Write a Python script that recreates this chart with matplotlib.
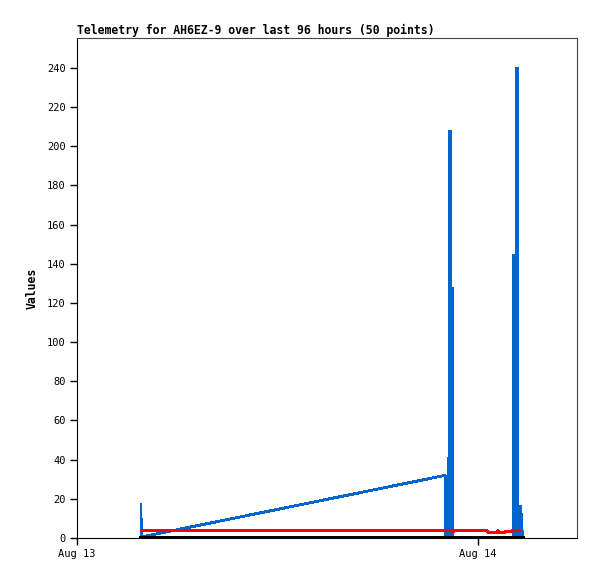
"""Telemetry chart for AH6EZ-9: three series over the last 96 hours."""

import matplotlib
matplotlib.use("Agg")
import matplotlib.pyplot as plt
import matplotlib.dates as mdates
import pandas as pd

BASE = pd.Timestamp("2024-08-13 00:00")

# hours after Aug 13 00:00
blue_hours = [3.83, 3.84, 22.05, 22.08, 22.11, 22.14, 22.17, 22.20, 22.23,
              22.26, 22.28, 22.31, 22.34, 22.37, 22.41, 22.44, 22.47, 22.50,
              26.10, 26.12, 26.15, 26.18, 26.21, 26.24, 26.27, 26.30, 26.33,
              26.36, 26.39, 26.54, 26.57, 26.60, 26.63, 26.66, 26.69]
blue_vals = [17, 0.5, 32, 0, 32, 0, 32, 0, 32,
             0, 208, 0, 208, 0, 128, 0, 128, 0,
             0, 145, 0, 145, 0, 121, 0, 240, 0,
             240, 0, 16.5, 0, 12.3, 0, 4, 0]

red_hours = [3.85, 22.45, 22.52, 22.60, 23.20, 23.25, 24.55, 24.60, 25.12,
             25.20, 25.28, 25.62, 25.68, 26.03, 26.08, 26.55]
red_vals = [3.75, 3.75, 3.0, 3.9, 3.9, 3.6, 3.6, 2.8, 2.8,
            3.9, 2.8, 2.8, 3.5, 3.5, 3.9, 3.9]

black_hours = [3.83, 26.72]
black_vals = [0, 0]

X_START_H, X_END_H = 0, 29.93


def to_time(hours):
    return [BASE + pd.Timedelta(hours=h) for h in hours]


plt.rcParams["font.family"] = "DejaVu Sans Mono"

fig = plt.figure(figsize=(5.97, 5.79), dpi=100)
ax = fig.add_axes([0.129, 0.0708, 0.8375, 0.8636])

ax.plot(to_time(blue_hours), blue_vals, color="#0066cc", lw=1.35,
        solid_joinstyle="bevel", antialiased=False, zorder=2)
ax.plot(to_time(red_hours), red_vals, color="#ff0000", lw=1.45,
        antialiased=False, zorder=3)
ax.plot(to_time(black_hours), black_vals, color="black", lw=1.5,
        antialiased=False, zorder=4)

ax.set_xlim(BASE + pd.Timedelta(hours=X_START_H), BASE + pd.Timedelta(hours=X_END_H))
ax.set_ylim(0, 255.3)
ax.set_yticks(range(0, 241, 20))
ax.xaxis.set_major_locator(mdates.DayLocator())
ax.xaxis.set_major_formatter(mdates.DateFormatter("%b %d"))

ax.tick_params(labelsize=7.5, length=5, width=1, direction="out", pad=3)
ax.spines["top"].set_color("#444444")
ax.spines["right"].set_color("#444444")
ax.spines["left"].set_color("black")
ax.spines["bottom"].set_color("black")

ax.set_ylabel("Values", fontsize=8.3, fontweight="bold", labelpad=6)
ax.set_title("Telemetry for AH6EZ-9 over last 96 hours (50 points)",
             loc="left", fontsize=8.3, fontweight="bold", pad=3)

fig.savefig("out.png", dpi=100)
